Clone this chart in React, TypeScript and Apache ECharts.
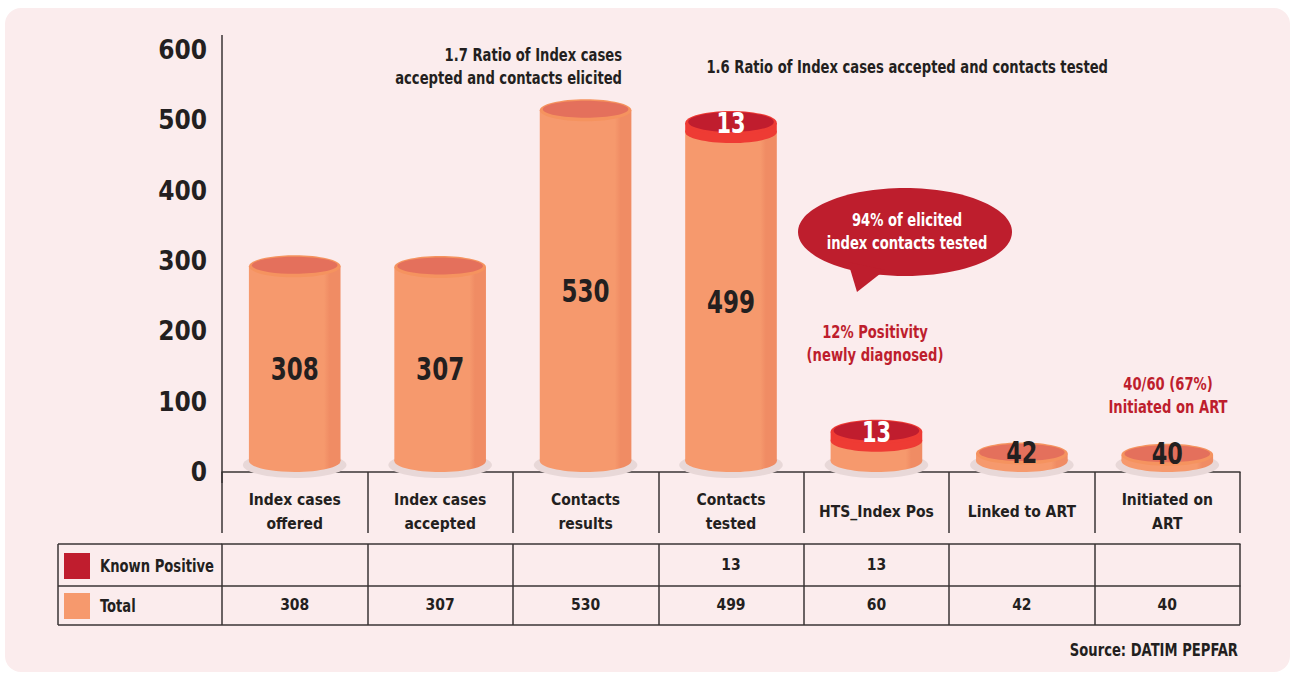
import React, { useEffect, useRef } from "react";
import * as echarts from "echarts";

const categories = [
  "Index cases\noffered",
  "Index cases\naccepted",
  "Contacts\nresults",
  "Contacts\ntested",
  "HTS_Index Pos",
  "Linked to ART",
  "Initiated on\nART",
];
const totalValues = [308, 307, 530, 499, 60, 42, 40];
const knownPositiveValues: (number | null)[] = [null, null, null, 13, 13, null, null];
const seriesNames = ["Known Positive", "Total"];
const yMin = 0;
const yMax = 600;
const yInterval = 100;

const ratioElicited = "1.7 Ratio of Index cases\naccepted and contacts elicited";
const ratioTested = "1.6 Ratio of Index cases accepted and contacts tested";
const bubbleText = "94% of elicited\nindex contacts tested";
const positivityText = "12% Positivity\n(newly diagnosed)";
const initiatedText = "40/60 (67%)\nInitiated on ART";
const sourceText = "Source: DATIM PEPFAR";

const FONT = "'DejaVu Sans Condensed', 'DejaVu Sans', sans-serif";
const DARK = "#231f20";
const RED = "#be1e2d";
const BRIGHT_RED = "#ee3b34";
const ORANGE = "#f6996d";
const ORANGE_TOP = "#e4705c";
const LINE = "#3a3435";
const SX = 0.86;

export default function App() {
  const ref = useRef<HTMLDivElement>(null);
  useEffect(() => {
    if (!ref.current) return;
    const chart = echarts.init(ref.current, null, { renderer: "svg" });
    const knownLabels = knownPositiveValues.map((v) => (v == null ? "" : String(v)));
    const totalLabels = totalValues.map((v) => String(v));

    const bodyFill = (c1: string, c2: string) => ({
      type: "linear",
      x: 0,
      y: 0,
      x2: 1,
      y2: 0,
      colorStops: [
        { offset: 0, color: c1 },
        { offset: 0.82, color: c1 },
        { offset: 0.88, color: c2 },
        { offset: 1, color: c2 },
      ],
    });

    const barText = (text: string, x: number, y: number, fill: string, size: number) => ({
      type: "text",
      x,
      y,
      scaleX: 0.8,
      style: {
        text,
        x: 0,
        y: 0,
        fill,
        fontSize: size,
        fontWeight: "bold",
        fontFamily: FONT,
        align: "center",
        verticalAlign: "middle",
      },
    });

    const renderItem = (params: any, api: any) => {
      const idx = api.value(0);
      const total = api.value(1);
      const known = api.value(2) || 0;
      const base = api.coord([idx, 0]);
      const topT = api.coord([idx, total]);
      const topK = api.coord([idx, total + known]);
      const w = api.size([1, 0])[0] * 0.63;
      const rx = w / 2;
      const ry = 11;
      const cx = base[0];
      const yBot = base[1] - ry;
      const yTot = topT[1] + ry;
      const yKn = topK[1] + ry;
      const children: any[] = [];
      children.push({
        type: "ellipse",
        shape: { cx: cx, cy: yBot + 4, rx: rx + 6, ry: ry + 2 },
        style: { fill: "#e8d8d8" },
      });
      children.push({
        type: "ellipse",
        shape: { cx: cx, cy: yBot, rx: rx, ry: ry },
        style: { fill: bodyFill(ORANGE, "#f08c64") },
      });
      children.push({
        type: "rect",
        shape: { x: cx - rx, y: yTot, width: w, height: Math.max(0, yBot - yTot) },
        style: { fill: bodyFill(ORANGE, "#f08c64") },
      });
      if (known > 0) {
        children.push({
          type: "ellipse",
          shape: { cx: cx, cy: yTot, rx: rx, ry: ry },
          style: { fill: BRIGHT_RED },
        });
        children.push({
          type: "rect",
          shape: { x: cx - rx, y: yKn, width: w, height: Math.max(0, yTot - yKn) },
          style: { fill: BRIGHT_RED },
        });
        children.push({
          type: "ellipse",
          shape: { cx: cx, cy: yKn, rx: rx, ry: ry + 1 },
          style: { fill: BRIGHT_RED },
        });
        children.push({
          type: "ellipse",
          shape: { cx: cx, cy: yKn - 1, rx: rx - 3, ry: ry - 1 },
          style: { fill: "#c01d2e" },
        });
        children.push(barText(String(known), cx, yKn, "#ffffff", 29));
      } else {
        children.push({
          type: "ellipse",
          shape: { cx: cx, cy: yTot, rx: rx, ry: ry },
          style: { fill: "#f5935f" },
        });
        children.push({
          type: "ellipse",
          shape: { cx: cx, cy: yTot - 1, rx: rx - 3, ry: ry - 2.5 },
          style: { fill: ORANGE_TOP },
        });
      }
      if (total >= 100) {
        children.push(barText(String(total), cx, (yTot + yBot) / 2 + 5, DARK, 32));
      } else if (known === 0) {
        children.push(barText(String(total), cx, yTot - 1, DARK, 31));
      }
      return { type: "group", children };
    };

    const tableAxis = (data: string[], offset: number, tickLen: number, margin: number) => ({
      type: "category",
      data,
      position: "bottom",
      offset,
      gridIndex: 0,
      axisLine: { show: true, lineStyle: { color: LINE, width: 1.5 } },
      axisTick: { show: true, interval: 0, length: tickLen, lineStyle: { color: LINE, width: 1.5 } },
      axisLabel: {
        interval: 0,
        margin,
        verticalAlign: "middle",
        color: DARK,
        fontSize: 15.5,
        fontWeight: "bold",
        fontFamily: FONT,
        lineHeight: 24,
      },
      splitLine: { show: false },
    });

    const txt = (text: string, x: number, y: number, fill: string, align: string, z = 10) => ({
      type: "text",
      z,
      x,
      y,
      scaleX: SX,
      style: {
        text,
        x: 0,
        y: 0,
        fill,
        fontSize: 17,
        fontWeight: "bold",
        fontFamily: FONT,
        align,
        verticalAlign: "middle",
        lineHeight: 23,
      },
    });

    chart.setOption({
      animation: false,
      backgroundColor: "#ffffff",
      grid: { left: 222, right: 52, top: 50, bottom: 203, containLabel: false },
      xAxis: [
        tableAxis(categories, 11, 61, 29),
        tableAxis(knownLabels, 72, 42, 21),
        tableAxis(totalLabels, 114, 39, 19),
      ],
      yAxis: {
        type: "value",
        min: yMin,
        max: yMax,
        interval: yInterval,
        axisLine: { show: false },
        axisTick: { show: false },
        splitLine: { show: false },
        axisLabel: {
          margin: 15,
          color: DARK,
          fontSize: 26,
          fontWeight: "bold",
          fontFamily: FONT,
        },
      },
      series: [
        {
          name: seriesNames[1],
          type: "custom",
          xAxisIndex: 0,
          yAxisIndex: 0,
          renderItem,
          clip: false,
          data: totalValues.map((v, i) => [i, v, knownPositiveValues[i] || 0]),
          encode: { x: 0, y: 1 },
        },
      ],
      graphic: [
        {
          type: "rect",
          z: -10,
          shape: { x: 5, y: 8, width: 1285, height: 664, r: 16 },
          style: { fill: "#fbeced" },
        },
        { type: "line", z: 10, shape: { x1: 222, y1: 35, x2: 222, y2: 483 }, style: { stroke: LINE, lineWidth: 1.5 } },
        { type: "line", z: 10, shape: { x1: 58, y1: 544, x2: 222, y2: 544 }, style: { stroke: LINE, lineWidth: 1.5 } },
        { type: "line", z: 10, shape: { x1: 58, y1: 586, x2: 222, y2: 586 }, style: { stroke: LINE, lineWidth: 1.5 } },
        { type: "line", z: 10, shape: { x1: 58, y1: 625, x2: 1240, y2: 625 }, style: { stroke: LINE, lineWidth: 1.5 } },
        { type: "line", z: 10, shape: { x1: 58, y1: 544, x2: 58, y2: 625 }, style: { stroke: LINE, lineWidth: 1.5 } },
        { type: "rect", z: 10, shape: { x: 64, y: 553, width: 26, height: 26 }, style: { fill: "#c01d2e" } },
        { type: "rect", z: 10, shape: { x: 64, y: 593, width: 26, height: 26 }, style: { fill: "#f6996d" } },
        txt(seriesNames[0], 100, 566, DARK, "left"),
        txt(seriesNames[1], 100, 606, DARK, "left"),
        txt(ratioElicited, 622, 67, DARK, "right"),
        txt(ratioTested, 1108, 67, DARK, "right"),
        { type: "ellipse", z: 10, shape: { cx: 905, cy: 232, rx: 107, ry: 44 }, style: { fill: RED } },
        { type: "polygon", z: 10, shape: { points: [[848, 262], [885, 270], [857, 292]] }, style: { fill: RED } },
        txt(bubbleText, 907, 232, "#ffffff", "center", 11),
        txt(positivityText, 875, 344, RED, "center"),
        txt(initiatedText, 1168, 396, RED, "center"),
        txt(sourceText, 1238, 650, DARK, "right"),
      ],
    });
    return () => chart.dispose();
  }, []);
  return (
    <div
      ref={ref}
      style={{ position: "absolute", left: 0, top: 0, width: 1292, height: 675 }}
    />
  );
}
